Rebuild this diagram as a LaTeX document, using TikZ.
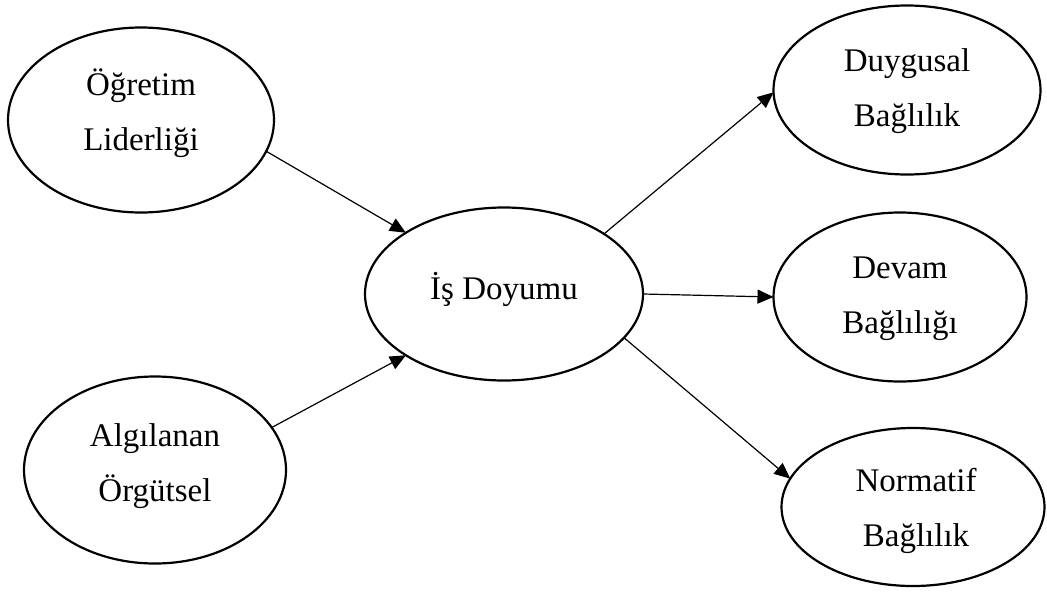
\documentclass[tikz,border=0pt]{standalone}
\usepackage{fontspec}
\setmainfont{Liberation Serif}
\usetikzlibrary{shapes.geometric,arrows.meta}
\begin{document}
\begin{tikzpicture}[x=1pt,y=-1pt,
  blob/.style={ellipse,draw,line width=2.2pt,inner sep=0pt,outer sep=0pt},
  caption/.style={inner sep=0pt,align=center,font=\fontsize{33}{55}\selectfont},
  link/.style={line width=1.2pt,-{Triangle[length=16pt,width=14pt]}}]
\useasboundingbox (0,0) rectangle (1047,592);
% latent variables
\node[blob,minimum width=266pt,minimum height=185pt] (ol) at (141,120) {};
\node[blob,minimum width=262pt,minimum height=187pt] (ao) at (155,470) {};
\node[blob,minimum width=278pt,minimum height=173pt] (is) at (504,294) {};
\node[blob,minimum width=267pt,minimum height=169pt] (dy) at (907,90) {};
\node[blob,minimum width=253pt,minimum height=169pt] (dv) at (900,297) {};
\node[blob,minimum width=263pt,minimum height=158pt] (nb) at (913,507) {};
% their names
\node[caption] (olt) at ([yshift=7pt]ol.center) {Öğretim\\Liderliği};
\node[caption] (aot) at ([yshift=4pt]ao.center) {Algılanan\\Örgütsel};
\node[caption] (ist) at ([yshift=5pt]is.center) {İş Doyumu};
\node[caption] (dyt) at ([yshift=-1pt]dy.center) {Duygusal\\Bağlılık};
\node[caption] (dvt) at ([yshift=-2pt]dv.center) {Devam\\Bağlılığı};
\node[caption] (nbt) at ([xshift=3pt,yshift=-4pt]nb.center) {Normatif\\Bağlılık};
% paths
\draw[link] (ol.-14.7) -- (is.148);
\draw[link] (ao.20.4) -- (is.212);
\draw[link] (is.31.5) -- (dy.181.3);
\draw[link] (is.-0.4) -- (dv.180);
\draw[link] (is.-20.2) -- (nb.167);
\end{tikzpicture}
\end{document}
